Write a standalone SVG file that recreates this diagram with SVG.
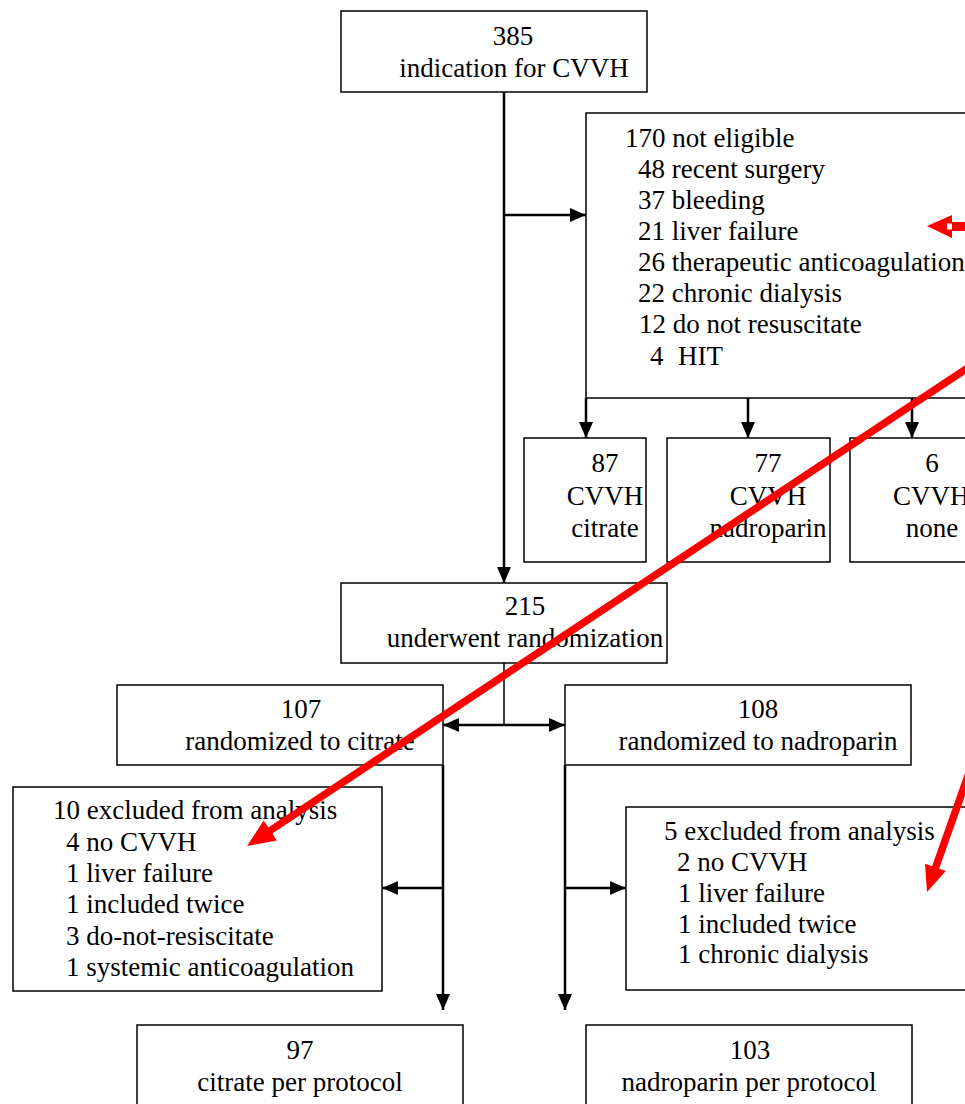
<svg xmlns="http://www.w3.org/2000/svg" width="965" height="1104" viewBox="0 0 965 1104">
<style>
.box{fill:#fff;stroke:#000;stroke-width:1.5}
text{font-family:'Liberation Serif','Times New Roman',Times,serif;font-size:27px;fill:#000}
.c{text-anchor:middle}
.ln{fill:none;stroke:#000;stroke-width:2.5}
.thin{fill:none;stroke:#000;stroke-width:1.5}
.red{fill:none;stroke:#ff0000;stroke-width:7.5}
</style>
<defs>
<marker id="ah" markerUnits="userSpaceOnUse" markerWidth="16" markerHeight="14" viewBox="0 0 16 14" refX="16" refY="7" orient="auto">
<path d="M0,0 L16,7 L0,14 Z" fill="#000"/>
</marker>
</defs>
<rect width="965" height="1104" fill="#fff"/>

<g font-family="Liberation Serif, Times New Roman, serif">
<g id="n385">
<rect class="box" x="341" y="11" width="306" height="81"/>
<text class="c" x="513" y="45">385</text>
<text class="c" x="514" y="77">indication for CVVH</text>
</g>

<g id="n170">
<rect class="box" x="586" y="113" width="400" height="285"/>
<text x="625" y="147">170 not eligible</text>
<text x="638" y="178">48 recent surgery</text>
<text x="638" y="209">37 bleeding</text>
<text x="638" y="240">21 liver failure</text>
<text x="638" y="271">26 therapeutic anticoagulation</text>
<text x="638" y="302">22 chronic dialysis</text>
<text x="639" y="333">12 do not resuscitate</text>
<text x="650" y="365">4<tspan x="678">HIT</tspan></text>
</g>

<g id="n87">
<rect class="box" x="524" y="438" width="122" height="124"/>
<text class="c" x="605" y="472">87</text>
<text class="c" x="605" y="505">CVVH</text>
<text class="c" x="605" y="537">citrate</text>
</g>

<g id="n77">
<rect class="box" x="667" y="438" width="163" height="124"/>
<text class="c" x="768" y="472">77</text>
<text class="c" x="768" y="505">CVVH</text>
<text class="c" x="768" y="537">nadroparin</text>
</g>

<g id="n6">
<rect class="box" x="850" y="438" width="140" height="124"/>
<text class="c" x="932" y="472">6</text>
<text x="893" y="505">CVVH</text>
<text class="c" x="932" y="537">none</text>
</g>

<g id="n215">
<rect class="box" x="341" y="583" width="326" height="80"/>
<text class="c" x="525" y="615">215</text>
<text class="c" x="525" y="647">underwent randomization</text>
</g>

<g id="n107">
<rect class="box" x="117" y="685" width="326" height="80"/>
<text class="c" x="301" y="718">107</text>
<text class="c" x="300" y="750">randomized to citrate</text>
</g>

<g id="n108">
<rect class="box" x="565" y="685" width="346" height="80"/>
<text class="c" x="758" y="718">108</text>
<text class="c" x="758" y="750">randomized to nadroparin</text>
</g>

<g id="nexcl10">
<rect class="box" x="13" y="787" width="369" height="204"/>
<text x="53" y="819">10 excluded from analysis</text>
<text x="66" y="851">4 no CVVH</text>
<text x="66" y="882">1 liver failure</text>
<text x="66" y="913">1 included twice</text>
<text x="66" y="945">3 do-not-resiscitate</text>
<text x="66" y="976">1 systemic anticoagulation</text>
</g>

<g id="nexcl5">
<rect class="box" x="626" y="807" width="360" height="183"/>
<text x="664" y="840">5 excluded from analysis</text>
<text x="677" y="871">2 no CVVH</text>
<text x="678" y="902">1 liver failure</text>
<text x="678" y="933">1 included twice</text>
<text x="678" y="963">1 chronic dialysis</text>
</g>

<g id="n97">
<rect class="box" x="137" y="1025" width="326" height="100"/>
<text class="c" x="300" y="1059">97</text>
<text class="c" x="300" y="1091">citrate per protocol</text>
</g>

<g id="n103">
<rect class="box" x="586" y="1025" width="326" height="100"/>
<text class="c" x="750" y="1059">103</text>
<text class="c" x="749" y="1091">nadroparin per protocol</text>
</g>
</g>

<g id="connectors">
<line class="ln" x1="504" y1="92" x2="504" y2="583" marker-end="url(#ah)"/>
<line class="ln" x1="504" y1="215" x2="586" y2="215" marker-end="url(#ah)"/>
<line class="ln" x1="586" y1="398" x2="586" y2="438" marker-end="url(#ah)"/>
<line class="ln" x1="748" y1="398" x2="748" y2="438" marker-end="url(#ah)"/>
<line class="ln" x1="912" y1="398" x2="912" y2="438" marker-end="url(#ah)"/>
<line class="thin" x1="504" y1="663" x2="504" y2="725"/>
<line class="ln" x1="504" y1="725" x2="443" y2="725" marker-end="url(#ah)"/>
<line class="ln" x1="504" y1="725" x2="565" y2="725" marker-end="url(#ah)"/>
<line class="ln" x1="443" y1="765" x2="443" y2="1010" marker-end="url(#ah)"/>
<line class="ln" x1="443" y1="888" x2="382" y2="888" marker-end="url(#ah)"/>
<line class="ln" x1="565" y1="765" x2="565" y2="1010" marker-end="url(#ah)"/>
<line class="ln" x1="565" y1="888" x2="626" y2="888" marker-end="url(#ah)"/>
</g>

<g id="annotations">
<polygon points="927,226 952,215 952,238" fill="#ff0000"/>
<rect x="952" y="222" width="20" height="9" fill="#ff0000"/>
<rect x="947" y="223.5" width="5" height="6" fill="#fff"/>
<line class="red" x1="972" y1="365" x2="268" y2="832"/>
<polygon points="247,846 263.7,820.5 276.9,840.5" fill="#ff0000"/>
<line class="red" x1="970" y1="770" x2="934" y2="872"/>
<polygon points="927,892 925,863.8 945.8,871" fill="#ff0000"/>
</g>
</svg>
